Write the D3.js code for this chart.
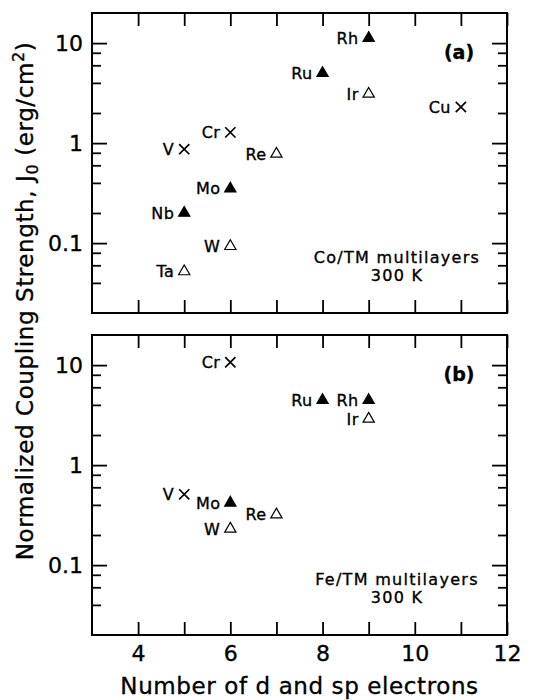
<!DOCTYPE html>
<html>
<head>
<meta charset="utf-8">
<script src="https://cdn.jsdelivr.net/npm/d3@7"></script>
<style>
  body { margin: 0; background: #fff; }
  text { font-family: "DejaVu Sans", sans-serif; fill: #000; stroke: #000; stroke-width: 0.35px; }
</style>
</head>
<body>
<svg width="536" height="700"></svg>
<script>
// panel (a): Co/TM multilayers
var elemA = ["Rh", "Ru", "Ir", "Cu", "Cr", "V", "Re", "Mo", "Nb", "W", "Ta"];
var electronsA = [9, 8, 9, 11, 6, 5, 7, 6, 5, 6, 5];
var couplingA = [11.2, 5.0, 3.1, 2.3, 1.28, 0.87, 0.78, 0.35, 0.2, 0.093, 0.052];
var markerA = ["fill", "fill", "open", "cross", "cross", "cross", "open", "fill", "fill", "open", "open"];

// panel (b): Fe/TM multilayers
var elemB = ["Cr", "Ru", "Rh", "Ir", "V", "Mo", "Re", "W"];
var electronsB = [6, 8, 9, 9, 5, 6, 7, 6];
var couplingB = [10.7, 4.45, 4.45, 2.9, 0.51, 0.42, 0.32, 0.23];
var markerB = ["cross", "fill", "fill", "open", "cross", "fill", "open", "open"];

var xTicks = [4, 5, 6, 7, 8, 9, 10, 11, 12];
var yMajor = [0.1, 1, 10];
var yMinor = [0.04, 0.06, 0.08, 0.2, 0.4, 0.6, 0.8, 2, 4, 6, 8];

var svg = d3.select("svg");
var left = 92, right = 507;
var panelH = 300;

var xScale = d3.scaleLinear().domain([3, 12]).range([left, right]);

function drawPanel(top, elems, xs, ys, marks, tag, note, showXLabels) {
    var yScale = d3.scaleLog().domain([0.02, 20]).range([top + panelH, top]);
    var g = svg.append("g");

    // Left axis
    g.append("g")
        .attr("transform", "translate(" + left + ",0)")
        .call(d3.axisLeft(yScale).tickValues(yMajor).tickSize(-15).tickPadding(9)
            .tickFormat(d3.format("~g")))
        .call(a => a.selectAll("text").style("font-size", "22px"));
    g.append("g")
        .attr("transform", "translate(" + left + ",0)")
        .call(d3.axisLeft(yScale).tickValues(yMinor).tickSize(-9).tickFormat(""));

    // Right axis
    g.append("g")
        .attr("transform", "translate(" + right + ",0)")
        .call(d3.axisRight(yScale).tickValues(yMajor).tickSize(-15).tickFormat(""));
    g.append("g")
        .attr("transform", "translate(" + right + ",0)")
        .call(d3.axisRight(yScale).tickValues(yMinor).tickSize(-9).tickFormat(""));

    // Top and bottom
    g.append("g")
        .attr("transform", "translate(0," + top + ")")
        .call(d3.axisTop(xScale).tickValues(xTicks).tickSize(-13).tickFormat(""));
    g.append("g")
        .attr("transform", "translate(0," + (top + panelH) + ")")
        .call(d3.axisBottom(xScale).tickValues(xTicks).tickSize(-13).tickPadding(10)
            .tickFormat(d => (showXLabels && d % 2 === 0) ? d : ""))
        .call(a => a.selectAll("text").style("font-size", "22px"));

    g.selectAll(".domain").remove();
    g.selectAll(".tick line").attr("stroke", "#000").attr("stroke-width", 1.8);
    g.selectAll(".tick text").attr("font-family", "DejaVu Sans").attr("fill", "#000");

    g.append("rect")
        .attr("x", left).attr("y", top)
        .attr("width", right - left).attr("height", panelH)
        .attr("fill", "none").attr("stroke", "#000").attr("stroke-width", 2);

    var pts = elems.map((e, i) => ({ name: e, x: xs[i], y: ys[i], m: marks[i] }));
    var node = g.selectAll(".pt").data(pts).enter().append("g")
        .attr("transform", d => "translate(" + xScale(d.x) + "," + yScale(d.y) + ")");

    node.append("path")
        .attr("d", d => d.m === "cross"
            ? d3.symbol().type(d3.symbolTimes).size(70)()
            : d3.symbol().type(d3.symbolTriangle).size(55)())
        .attr("fill", d => d.m === "fill" ? "#000" : (d.m === "open" ? "#fff" : "none"))
        .attr("stroke", "#000")
        .attr("stroke-width", d => d.m === "cross" ? 1.7 : 1.2);

    node.append("text")
        .attr("x", -10)
        .attr("dy", "0.36em")
        .attr("text-anchor", "end")
        .style("font-size", "16px")
        .style("letter-spacing", "0.4px")
        .text(d => d.name);

    g.append("text")
        .attr("x", 459).attr("y", top + 46)
        .attr("text-anchor", "middle")
        .style("font-size", "19px").style("font-weight", "bold")
        .text(tag);

    // two-line note in one text element
    var n = g.append("text")
        .attr("text-anchor", "middle")
        .style("font-size", "16px")
        .style("letter-spacing", "1.3px");
    n.append("tspan").attr("x", 397).attr("y", top + 250).text(note);
    n.append("tspan").attr("x", 397).attr("y", top + 268).text("300 K");
}

drawPanel(13, elemA, electronsA, couplingA, markerA, "(a)", "Co/TM multilayers", false);
drawPanel(335, elemB, electronsB, couplingB, markerB, "(b)", "Fe/TM multilayers", true);

// axis titles
svg.append("text")
    .attr("x", (left + right) / 2).attr("y", 694)
    .attr("text-anchor", "middle")
    .style("font-size", "23px")
    .style("letter-spacing", "0.6px")
    .text("Number of d and sp electrons");

var yTitle = svg.append("text")
    .attr("transform", "translate(33,301) rotate(-90)")
    .attr("text-anchor", "middle")
    .style("font-size", "23px")
    .style("letter-spacing", "0.6px");
yTitle.append("tspan").text("Normalized Coupling Strength, J");
yTitle.append("tspan").attr("dy", 5).style("font-size", "16px").text("0");
yTitle.append("tspan").attr("dy", -5).text(" (erg/cm");
yTitle.append("tspan").attr("dy", -9).style("font-size", "16px").text("2");
yTitle.append("tspan").attr("dy", 9).text(")");
</script>
</body>
</html>
